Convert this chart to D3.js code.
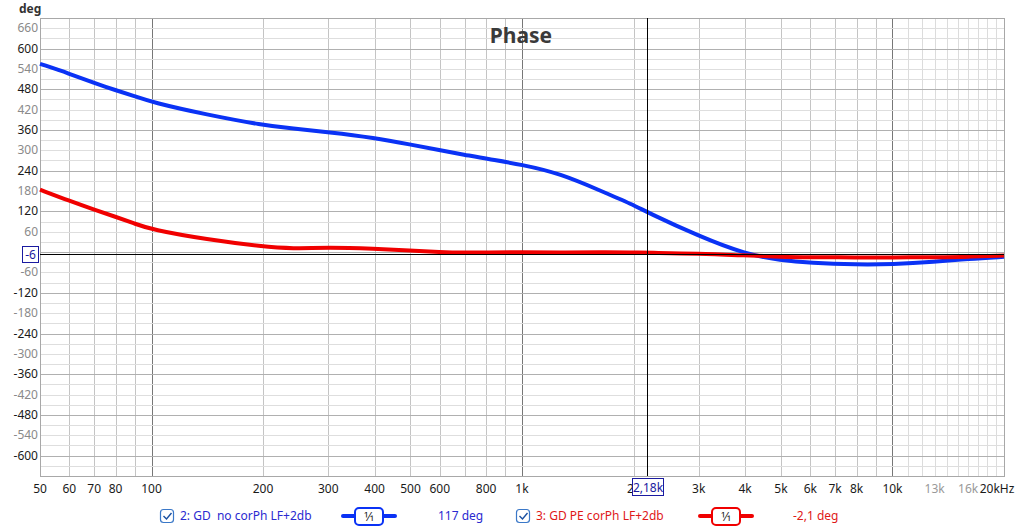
<!DOCTYPE html>
<html>
<head>
<meta charset="utf-8">
<script src="https://cdn.jsdelivr.net/npm/d3@7"></script>
<style>
  body { margin: 0; background: #fff; }
  text { font-family: "Noto Sans", "Open Sans", sans-serif; }
</style>
</head>
<body>
<div id="myVis"></div>
<script>
// phase curves, deg vs Hz
var freqs = [50, 60, 70, 80, 90, 100, 141, 200, 240, 300, 400, 500, 600, 700, 800, 1000, 1270, 1620, 2000, 2180, 3000, 4000, 5000, 6000, 8000, 10000, 13000, 16000, 20000];
var bluePhase = [555, 526, 499, 477, 460, 442, 405, 374, 364, 354, 337, 317, 300, 287, 275, 258, 231, 182, 139, 117, 47, -6, -24, -32, -37, -36, -29, -20, -14];
var redPhase = [184, 151, 125, 104, 84, 66, 37, 16, 10, 14, 10, 5, 0, -2, -1, 0, -2, 0, -1, -2, -4, -10, -14, -15, -16, -16, -15, -14, -10];

var xTicks = [50, 60, 70, 80, 100, 200, 300, 400, 500, 600, 800, 1000, 2000, 3000, 4000, 5000, 6000, 7000, 8000, 10000, 13000, 16000, 20000];
var xTickText = ["50", "60", "70", "80", "100", "200", "300", "400", "500", "600", "800", "1k", "2k", "3k", "4k", "5k", "6k", "7k", "8k", "10k", "13k", "16k", "20kHz"];
var xGrayTicks = [13000, 16000];
var yTicks = [660, 600, 540, 480, 420, 360, 300, 240, 180, 120, 60, -60, -120, -180, -240, -300, -360, -420, -480, -540, -600];

var cursorFreq = 2180;
var cursorDeg = -6;

var width = 1024;
var height = 527;
var plotL = 40, plotR = 1004, plotT = 18, plotB = 476;

var svg = d3.select("#myVis")
  .append("svg")
  .attr("width", width)
  .attr("height", height);

var x = d3.scaleLog().domain([50, 20000]).range([plotL, plotR]);
var y = d3.scaleLinear().domain([-660, 690]).range([plotB, plotT]);

// vertical grid
var vGrid = [];
[10, 100, 1000, 10000].forEach(function (dec) {
  for (var k = 1; k < 10; k++) {
    var f = dec * k;
    if (f >= 50 && f <= 20000) vGrid.push(f);
  }
});
for (var f = 11000; f < 20000; f += 1000) vGrid.push(f);

svg.append("g").selectAll("line")
  .data(vGrid)
  .enter().append("line")
  .attr("x1", function (d) { return Math.round(x(d)) + 0.5; })
  .attr("x2", function (d) { return Math.round(x(d)) + 0.5; })
  .attr("y1", plotT)
  .attr("y2", plotB)
  .attr("stroke", function (d) { return (d == 100 || d == 1000 || d == 10000) ? "#777" : (d > 10000 ? "#dcdcdc" : "#c4c4c4"); })
  .attr("stroke-width", 1);

// horizontal grid every 30 deg
var hGrid = d3.range(-630, 690, 30);
svg.append("g").selectAll("line")
  .data(hGrid)
  .enter().append("line")
  .attr("x1", plotL)
  .attr("x2", plotR)
  .attr("y1", function (d) { return Math.round(y(d)) + 0.5; })
  .attr("y2", function (d) { return Math.round(y(d)) + 0.5; })
  .attr("stroke", function (d) { return d % 120 == 0 ? "#b0b0b0" : "#dedede"; })
  .attr("stroke-width", 1);

// frame
svg.append("rect")
  .attr("x", plotL + 0.5)
  .attr("y", plotT + 0.5)
  .attr("width", plotR - plotL)
  .attr("height", plotB - plotT)
  .attr("fill", "none")
  .attr("stroke", "#a8a8a8");

// y axis labels
svg.append("g").selectAll("text")
  .data(yTicks)
  .enter().append("text")
  .attr("x", plotL - 2)
  .attr("y", function (d) { return y(d) + 4; })
  .attr("text-anchor", "end")
  .attr("font-size", 12)
  .attr("fill", function (d) { return d % 120 == 0 ? "#1a1a1a" : "#8a8a8a"; })
  .text(function (d) { return d; });

svg.append("text")
  .attr("x", 19)
  .attr("y", 13)
  .attr("font-size", 12)
  .attr("font-weight", "bold")
  .attr("fill", "#333")
  .text("deg");

// x axis labels
svg.append("g").selectAll("text")
  .data(xTicks)
  .enter().append("text")
  .attr("x", function (d, i) { return x(d) + (i == xTicks.length - 1 ? -7 : 0); })
  .attr("y", 493)
  .attr("text-anchor", "middle")
  .attr("font-size", 12)
  .attr("fill", function (d) { return xGrayTicks.indexOf(d) >= 0 ? "#999" : "#1a1a1a"; })
  .text(function (d, i) { return xTickText[i]; });

// title
svg.append("text")
  .attr("x", 521)
  .attr("y", 43)
  .attr("text-anchor", "middle")
  .attr("font-size", 21)
  .attr("font-weight", "bold")
  .attr("fill", "#3a3a3a")
  .text("Phase");

// curves
var line = d3.line()
  .x(function (d) { return x(d[0]); })
  .y(function (d) { return y(d[1]); })
  .curve(d3.curveBasis);

svg.append("path")
  .datum(freqs.map(function (f, i) { return [f, bluePhase[i]]; }))
  .attr("d", line)
  .attr("fill", "none")
  .attr("stroke", "#0a32f5")
  .attr("stroke-width", 4);

svg.append("path")
  .datum(freqs.map(function (f, i) { return [f, redPhase[i]]; }))
  .attr("d", line)
  .attr("fill", "none")
  .attr("stroke", "#f00000")
  .attr("stroke-width", 4);

// cursor lines
svg.append("line")
  .attr("x1", plotL).attr("x2", plotR)
  .attr("y1", Math.round(y(cursorDeg)) + 0.5).attr("y2", Math.round(y(cursorDeg)) + 0.5)
  .attr("stroke", "#000");
svg.append("line")
  .attr("x1", Math.round(x(cursorFreq)) + 0.5).attr("x2", Math.round(x(cursorFreq)) + 0.5)
  .attr("y1", plotT).attr("y2", plotB)
  .attr("stroke", "#000");

// cursor boxes
var yBox = svg.append("g").attr("transform", "translate(22," + (Math.round(y(cursorDeg)) - 8) + ")");
yBox.append("rect").attr("x", 0.5).attr("y", 0.5).attr("width", 16).attr("height", 16)
  .attr("fill", "#fff").attr("stroke", "#1a1aa0");
yBox.append("text").attr("x", 8.5).attr("y", 13).attr("text-anchor", "middle")
  .attr("font-size", 12).attr("fill", "#1a1aa0").text(cursorDeg);

var xBox = svg.append("g").attr("transform", "translate(632,478)");
xBox.append("rect").attr("x", 0.5).attr("y", 0.5).attr("width", 31).attr("height", 17)
  .attr("fill", "#fff").attr("stroke", "#1a1aa0");
xBox.append("text").attr("x", 16).attr("y", 14).attr("text-anchor", "middle")
  .attr("font-size", 12).attr("fill", "#1a1aa0").text("2,18k");

// legend
var legendItems = [
  { x: 160, color: "#2a2ad0", stroke: "#0a32f5", label: "2: GD  no corPh LF+2db", value: "117 deg", sym: 343, val: 438 },
  { x: 516, color: "#e01818", stroke: "#f00000", label: "3: GD PE corPh LF+2db", value: "-2,1 deg", sym: 700, val: 793 }
];

legendItems.forEach(function (it) {
  var g = svg.append("g");
  g.append("rect").attr("x", it.x + 0.5).attr("y", 509.5).attr("width", 13).attr("height", 13)
    .attr("rx", 3).attr("fill", "#fff").attr("stroke", "#3a78c8").attr("stroke-width", 1.2);
  g.append("path").attr("d", "M" + (it.x + 3.5) + ",516 l3,3 l5,-6")
    .attr("fill", "none").attr("stroke", "#1a4fa0").attr("stroke-width", 1.4);
  g.append("text").attr("x", it.x + 20).attr("y", 520).attr("font-size", 12)
    .attr("fill", it.color).attr("xml:space", "preserve").style("white-space", "pre").text(it.label);
  g.append("line").attr("x1", it.sym).attr("x2", it.sym + 52).attr("y1", 516).attr("y2", 516)
    .attr("stroke", it.stroke).attr("stroke-width", 4).attr("stroke-linecap", "round");
  g.append("rect").attr("x", it.sym + 12).attr("y", 508).attr("width", 28).attr("height", 17)
    .attr("rx", 4).attr("fill", "#fff").attr("stroke", it.stroke).attr("stroke-width", 2);
  g.append("text").attr("x", it.sym + 26).attr("y", 521).attr("text-anchor", "middle")
    .attr("font-size", 12).attr("fill", "#222").text("1\u20441");
  g.append("text").attr("x", it.val).attr("y", 520).attr("font-size", 12)
    .attr("fill", it.color).text(it.value);
});
</script>
</body>
</html>
